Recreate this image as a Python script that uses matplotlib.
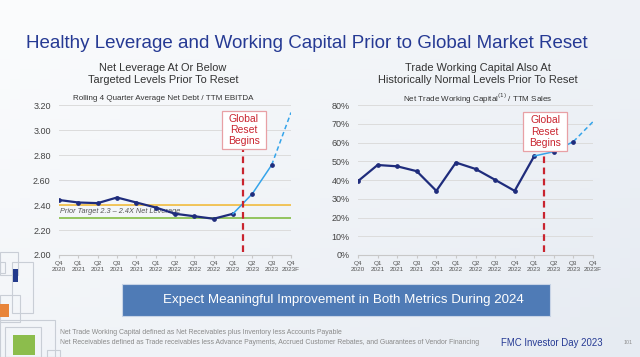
import numpy as np
import matplotlib.pyplot as plt
from matplotlib.patches import Rectangle

plt.rcParams['font.family'] = ['Liberation Sans', 'DejaVu Sans']

quarters = ["Q4\n2020", "Q1\n2021", "Q2\n2021", "Q3\n2021", "Q4\n2021", "Q1\n2022", "Q2\n2022",
            "Q3\n2022", "Q4\n2022", "Q1\n2023", "Q2\n2023", "Q3\n2023", "Q4\n2023F"]
leverage = [2.44, 2.42, 2.415, 2.46, 2.42, 2.38, 2.33, 2.31, 2.29, 2.33, 2.49, 2.72, 3.14]
working_cap = [39.4, 48.0, 47.3, 44.7, 34.2, 49.3, 45.9, 40.1, 34.2, 52.8, 55.1, 60.5, 71.1]
target_low, target_high = 2.30, 2.40

W, H = 640, 357
NAVY = "#1f2c7c"
LIGHT = "#35a4ea"
RED = "#c9242f"

fig = plt.figure(figsize=(6.4, 3.57), dpi=100)

# background gradient
bg = fig.add_axes([0, 0, 1, 1], zorder=-10)
gx, gy = np.meshgrid(np.linspace(0, 1, 64), np.linspace(0, 1, 36))
grad = 0.6 * gx + 0.4 * gy
bg.imshow(grad, cmap=plt.matplotlib.colors.LinearSegmentedColormap.from_list("bg", ["#fbfcfd", "#e6ebf2"]),
          extent=[0, 1, 0, 1], aspect="auto", origin="upper")
bg.axis("off")


def px(x0, y0, x1, y1):
    return [x0 / W, 1 - y1 / H, (x1 - x0) / W, (y1 - y0) / H]


def deco(x0, y0, x1, y1, fc="none", ec="#c9ced6"):
    fig.patches.append(Rectangle((x0 / W, 1 - y1 / H), (x1 - x0) / W, (y1 - y0) / H,
                                 transform=fig.transFigure, fc=fc, ec=ec, lw=0.8, zorder=-5))


for r in [(0, 252, 18, 275), (0, 262, 5, 273), (12, 262, 33, 313), (0, 295, 20, 322),
          (0, 320, 55, 357), (5, 327, 41, 357), (47, 350, 60, 357)]:
    deco(*r)
deco(13, 269, 18, 282, fc="#233a8c", ec="none")
deco(0, 304, 9, 317, fc="#e8853a", ec="none")
deco(13, 335, 35, 355, fc="#8cbd4c", ec="none")

fig.text(26 / W, 1 - 43 / H, "Healthy Leverage and Working Capital Prior to Global Market Reset",
         color="#263a94", fontsize=13.5, va="center", ha="left")


def style(ax, ylim, yticks, ylabels):
    x = np.arange(len(quarters))
    ax.set_xlim(0, len(quarters) - 1)
    ax.set_ylim(*ylim)
    ax.set_yticks(yticks)
    ax.set_yticklabels(ylabels, fontsize=6.5, color="#444444")
    ax.set_xticks(x)
    ax.set_xticklabels(quarters, fontsize=4.6, color="#555555", linespacing=1.3)
    ax.grid(axis="y", color="#dcdcdc", lw=0.7)
    ax.set_axisbelow(True)
    for s in ["top", "right", "left"]:
        ax.spines[s].set_visible(False)
    ax.spines["bottom"].set_color("#c8c8c8")
    ax.tick_params(axis="y", length=0, pad=6)
    ax.tick_params(axis="x", length=2.5, color="#c8c8c8", pad=2)
    ax.patch.set_alpha(0)


def reset_marker(ax, box):
    x0, x1, y0, y1 = box
    ax.vlines(9.52, ax.get_ylim()[0] + 0.02 * (ax.get_ylim()[1] - ax.get_ylim()[0]), y0,
              color=RED, lw=1.6, linestyles=(0, (3, 2)), zorder=4)
    ax.add_patch(Rectangle((x0, y0), x1 - x0, y1 - y0, fc="white", ec="#e8a0a5", lw=0.9, zorder=5))
    ax.text((x0 + x1) / 2, (y0 + y1) / 2, "Global\nReset\nBegins", color=RED, fontsize=7.5,
            ha="center", va="center", linespacing=1.15, zorder=6)


def draw_series(ax, vals):
    x = np.arange(len(vals))
    ax.plot(x[:10], vals[:10], color=NAVY, lw=1.6, marker="o", ms=2.4, zorder=3)
    ax.plot(x[9:12], vals[9:12], color=LIGHT, lw=1.1, zorder=3)
    ax.plot(x[11:], vals[11:], color=LIGHT, lw=1.1, ls=(0, (3, 2)), zorder=3)
    ax.plot(x[10:12], vals[10:12], ls="none", marker="o", ms=2.4, color=NAVY, zorder=3)


# left chart
ax1 = fig.add_axes(px(59, 105, 291, 255))
style(ax1, (2.0, 3.2), np.arange(2.0, 3.21, 0.2), [f"{v:.2f}" for v in np.arange(2.0, 3.21, 0.2)])
ax1.axhline(target_high, color="#f2c14e", lw=1.3, zorder=2)
ax1.axhline(target_low, color="#8cc152", lw=1.3, zorder=2)
ax1.text(0.05, 2.35, "Prior Target 2.3 \u2013 2.4X Net Leverage", fontsize=5.3, style="italic",
         color="#555555", va="center", zorder=2.5)
draw_series(ax1, leverage)
reset_marker(ax1, (8.42, 10.7, 2.846, 3.155))

# right chart
ax2 = fig.add_axes(px(358, 105, 593, 255))
style(ax2, (0, 80), np.arange(0, 81, 10), [f"{v}%" for v in range(0, 81, 10)])
draw_series(ax2, working_cap)
reset_marker(ax2, (8.44, 10.68, 55.5, 76.2))

# headings
for cx, lines, sub in [(163, "Net Leverage At Or Below\nTargeted Levels Prior To Reset",
                        "Rolling 4 Quarter Average Net Debt / TTM EBITDA"),
                       (478, "Trade Working Capital Also At\nHistorically Normal Levels Prior To Reset",
                        "Net Trade Working Capital$^{(1)}$ / TTM Sales")]:
    fig.text(cx / W, 1 - 74 / H, lines, ha="center", va="center", fontsize=7.9, color="#333333",
             linespacing=1.3)
    fig.text(cx / W, 1 - 98.5 / H, sub, ha="center", va="center", fontsize=5.8, color="#333333")

# banner
fig.patches.append(Rectangle((122 / W, 1 - 316 / H), (550 - 122) / W, (316 - 284) / H,
                             transform=fig.transFigure, fc="#4f7bb6", ec="#c8d4e6", lw=0.8))
fig.text(343 / W, 1 - 300 / H, "Expect Meaningful Improvement in Both Metrics During 2024",
         color="white", fontsize=9.6, ha="center", va="center")

fig.text(60 / W, 1 - 332 / H, "Net Trade Working Capital defined as Net Receivables plus Inventory less Accounts Payable",
         fontsize=4.95, color="#8a8a8a", va="center")
fig.text(60 / W, 1 - 343 / H,
         "Net Receivables defined as Trade receivables less Advance Payments, Accrued Customer Rebates, and Guarantees of Vendor Financing",
         fontsize=4.95, color="#8a8a8a", va="center")
fig.text(501 / W, 1 - 343 / H, "FMC Investor Day 2023", fontsize=6.9, color="#263a94", va="center")
fig.text(624 / W, 1 - 343 / H, "101", fontsize=3.8, color="#8a8a8a", va="center")

fig.savefig("out.png", dpi=100)
